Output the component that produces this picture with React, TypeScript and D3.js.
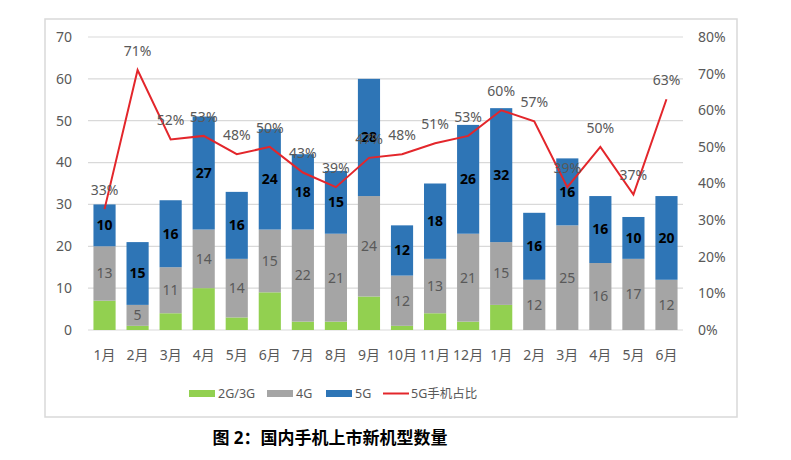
import * as d3 from 'd3';

const months = ['1月', '2月', '3月', '4月', '5月', '6月', '7月', '8月', '9月', '10月', '11月', '12月', '1月', '2月', '3月', '4月', '5月', '6月'];
const g23 = [7, 1, 4, 10, 3, 9, 2, 2, 8, 1, 4, 2, 6, 0, 0, 0, 0, 0];
const g4 = [13, 5, 11, 14, 14, 15, 22, 21, 24, 12, 13, 21, 15, 12, 25, 16, 17, 12];
const g5 = [10, 15, 16, 27, 16, 24, 18, 15, 28, 12, 18, 26, 32, 16, 16, 16, 10, 20];
const share = [33, 71, 52, 53, 48, 50, 43, 39, 47, 48, 51, 53, 60, 57, 39, 50, 37, 63];
const leftTicks = [0, 10, 20, 30, 40, 50, 60, 70];
const rightTicks = [0, 10, 20, 30, 40, 50, 60, 70, 80];

const GREEN = '#92D050';
const GRAY = '#A5A5A5';
const BLUE = '#2E75B6';
const RED = '#E3262B';
const FONT = '"Noto Sans", "Noto Sans CJK SC", sans-serif';

export default function App() {
  const keys = months.map((_, i) => String(i));
  const x = d3.scaleBand().domain(keys).range([88, 683]).paddingInner(0.33).paddingOuter(0.165);
  const y = d3.scaleLinear().domain([0, 70]).range([330, 37]);
  const y2 = d3.scaleLinear().domain([0, 80]).range([330, 37]);

  const rows = months.map((m, i) => ({ key: keys[i], m, a: g23[i], b: g4[i], c: g5[i], p: share[i] }));
  const cx = (k: string) => (x(k) as number) + x.bandwidth() / 2;

  const line = d3
    .line<(typeof rows)[number]>()
    .x((d) => cx(d.key))
    .y((d) => y2(d.p));

  return (
    <svg width={791} height={460} style={{ position: 'absolute', left: 0, top: 0, background: '#fff' }} fontFamily={FONT}>
      <rect x={45} y={19} width={692} height={398} fill="#fff" stroke="#d9d9d9" strokeWidth={1.5} />
      {leftTicks.map((t) => (
        <g key={t}>
          <line x1={88} x2={683} y1={y(t)} y2={y(t)} stroke="#d9d9d9" strokeWidth={1.2} />
          <text x={72} y={y(t)} dy="0.35em" textAnchor="end" fontSize={14} fill="#595959">
            {t}
          </text>
        </g>
      ))}
      {rightTicks.map((t) => (
        <text key={t} x={698} y={y2(t)} dy="0.35em" fontSize={14} fill="#595959">
          {t}%
        </text>
      ))}
      {rows.map((d) => {
        const bx = x(d.key) as number;
        const w = x.bandwidth();
        return (
          <g key={d.key}>
            {d.a > 0 && <rect x={bx} width={w} y={y(d.a)} height={y(0) - y(d.a)} fill={GREEN} />}
            <rect x={bx} width={w} y={y(d.a + d.b)} height={y(d.a) - y(d.a + d.b)} fill={GRAY} />
            <rect x={bx} width={w} y={y(d.a + d.b + d.c)} height={y(d.a + d.b) - y(d.a + d.b + d.c)} fill={BLUE} />
            <text x={cx(d.key)} y={y(d.a + d.b / 2)} dy="0.35em" textAnchor="middle" fontSize={14} fill="#595959">
              {d.b}
            </text>
            <text x={cx(d.key)} y={y(d.a + d.b + d.c / 2)} dy="0.35em" textAnchor="middle" fontSize={14} fontWeight="bold" fill="#000">
              {d.c}
            </text>
            <text x={cx(d.key)} y={355} dy="0.35em" textAnchor="middle" fontSize={14} fill="#595959">
              {d.m}
            </text>
          </g>
        );
      })}
      <path d={line(rows) ?? ''} fill="none" stroke={RED} strokeWidth={2} />
      {rows.map((d) => (
        <text key={'p' + d.key} x={cx(d.key)} y={y2(d.p) - 19} dy="0.35em" textAnchor="middle" fontSize={14} fill="#595959">
          {d.p}%
        </text>
      ))}
      <g fontSize={12.5} fill="#595959">
        <rect x={189} y={390} width={26} height={7} fill={GREEN} />
        <text x={218} y={393.5} dy="0.35em">2G/3G</text>
        <rect x={267} y={390} width={26} height={7} fill={GRAY} />
        <text x={296} y={393.5} dy="0.35em">4G</text>
        <rect x={326} y={390} width={26} height={7} fill={BLUE} />
        <text x={355} y={393.5} dy="0.35em">5G</text>
        <line x1={383} x2={409} y1={393.5} y2={393.5} stroke={RED} strokeWidth={2} />
        <text x={411} y={393.5} dy="0.35em">5G手机占比</text>
      </g>
      <text x={330} y={438} dy="0.35em" textAnchor="middle" fontSize={17} fontWeight="bold" fill="#000">
        图 2：国内手机上市新机型数量
      </text>
    </svg>
  );
}
